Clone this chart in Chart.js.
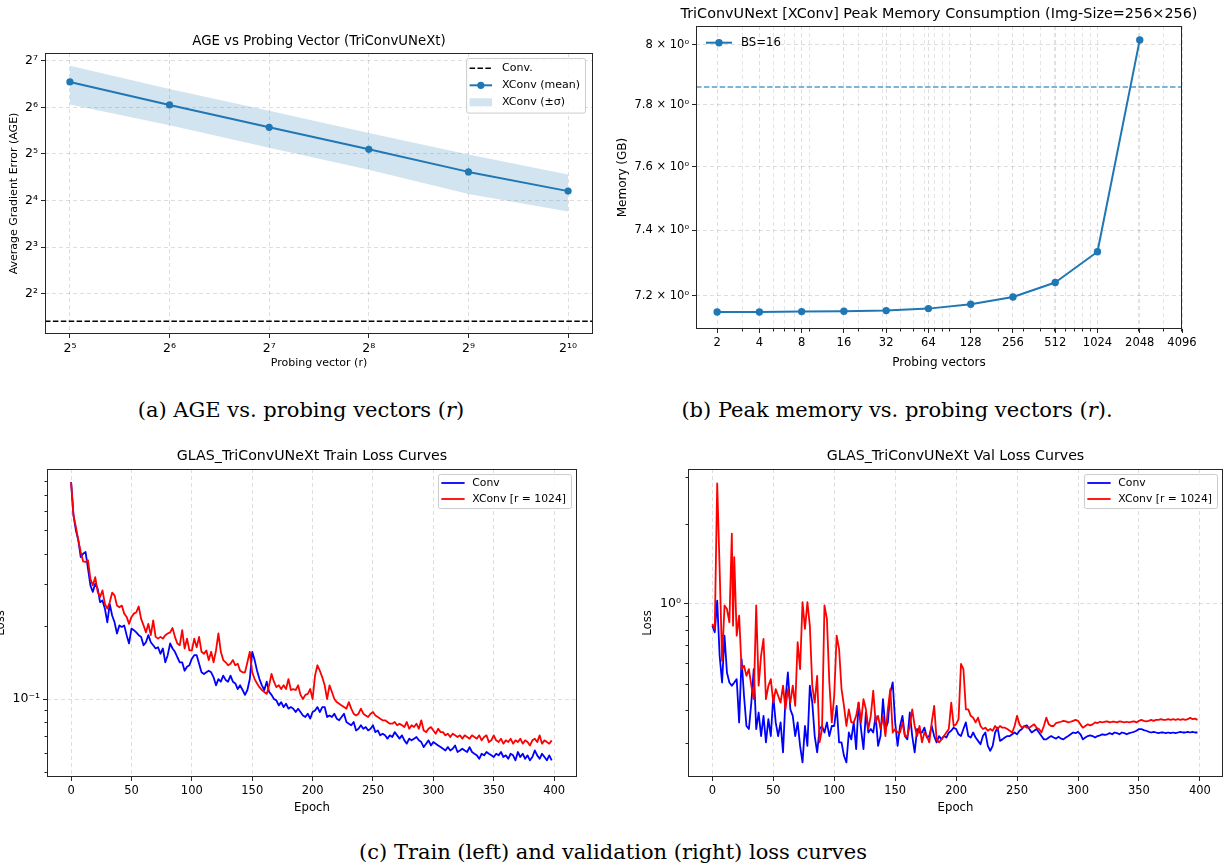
<!DOCTYPE html>
<html>
<head>
<meta charset="utf-8">
<title>XConv probing vectors and loss curves</title>
<script src="https://cdn.jsdelivr.net/npm/chart.js"></script>
<style>
  html, body { margin: 0; padding: 0; background: #fff; }
  body { position: relative; width: 1226px; height: 865px; overflow: hidden; }
  canvas { position: absolute; }
  .caption {
    position: absolute;
    transform: translate(-50%, -50%);
    font-family: "DejaVu Serif", serif;
    font-size: 21px;
    color: #000;
    white-space: nowrap;
  }
</style>
</head>
<body>
<canvas id="ageChart" width="606" height="353" style="left:0px;top:22px"></canvas>
<canvas id="memChart" width="620" height="375" style="left:606px;top:0px"></canvas>
<canvas id="trainChart" width="612" height="380" style="left:-12px;top:440px"></canvas>
<canvas id="valChart" width="614" height="380" style="left:612px;top:440px"></canvas>
<div class="caption" style="left:301px;top:410px">(a) AGE vs. probing vectors (<i>r</i>)</div>
<div class="caption" style="left:897px;top:410px">(b) Peak memory vs. probing vectors (<i>r</i>).</div>
<div class="caption" style="left:613px;top:852px">(c) Train (left) and validation (right) loss curves</div>
<script>
// ---- AGE vs probing vectors ----
const AGE_PROBES = [32, 64, 128, 256, 512, 1024];
const AGE_XCONV_MEAN = [93.6, 66.4, 47.6, 34.3, 24.5, 18.4];
const AGE_XCONV_UPPER = [119, 84.3, 61.0, 43.8, 31.7, 23.6];
const AGE_XCONV_LOWER = [67.0, 49.0, 35.1, 25.3, 17.6, 13.6];
const AGE_CONV = 2.65;
const AGE_TICKS = [4, 8, 16, 32, 64, 128];
const AGE_TICK_LABELS = ["2²", "2³", "2⁴", "2⁵", "2⁶", "2⁷"];
const AGE_X_LABELS = ["2⁵", "2⁶", "2⁷", "2⁸", "2⁹", "2¹⁰"];

// ---- peak memory ----
const MEM_PROBES = [2, 4, 8, 16, 32, 64, 128, 256, 512, 1024, 2048];
const MEM_GB = [7.151, 7.151, 7.152, 7.153, 7.155, 7.161, 7.174, 7.196, 7.240, 7.334, 8.016];
const MEM_LIMIT_GB = 7.859;
const MEM_X_TICKS = [2, 4, 8, 16, 32, 64, 128, 256, 512, 1024, 2048, 4096];
const MEM_X_LABELS = ["2", "4", "8", "16", "32", "64", "128", "256", "512", "1024", "2048", "4096"];
const MEM_X_MINOR = [3, 5, 6, 7, 9, 20, 30, 40, 50, 60, 70, 80, 90, 200, 300, 400, 500, 600, 700, 800, 900, 2000, 3000, 4000];
const MEM_Y_TICKS = [7.2, 7.4, 7.6, 7.8, 8.0];
const MEM_Y_LABELS = ["7.2 × 10⁰", "7.4 × 10⁰", "7.6 × 10⁰", "7.8 × 10⁰", "8 × 10⁰"];

// ---- loss curves ----
const range = (from, to, step) => Array.from({ length: Math.floor((to - from) / step) + 1 }, (_, i) => from + i * step);
const TRAIN_EPOCHS = range(0, 398, 2);
const EPOCH_TICKS = [0, 50, 100, 150, 200, 250, 300, 350, 400];
const EPOCH_LABELS = ["0", "50", "100", "150", "200", "250", "300", "350", "400"];

const TRAIN_CONV = [
  0.793, 0.577, 0.500, 0.455, 0.388, 0.400, 0.407, 0.347, 0.296, 0.278,
  0.301, 0.287, 0.252, 0.256, 0.237, 0.208, 0.248, 0.222, 0.208, 0.187,
  0.202, 0.199, 0.202, 0.184, 0.170, 0.196, 0.193, 0.189, 0.184, 0.181,
  0.167, 0.172, 0.184, 0.172, 0.167, 0.162, 0.164, 0.154, 0.162, 0.142,
  0.152, 0.170, 0.162, 0.157, 0.149, 0.142, 0.142, 0.131, 0.136, 0.138,
  0.147, 0.152, 0.152, 0.140, 0.129, 0.127, 0.129, 0.131, 0.129, 0.123,
  0.114, 0.121, 0.118, 0.125, 0.120, 0.118, 0.125, 0.118, 0.116, 0.110,
  0.114, 0.109, 0.104, 0.109, 0.121, 0.157, 0.145, 0.131, 0.121, 0.114,
  0.109, 0.118, 0.107, 0.104, 0.100, 0.0987, 0.0941, 0.0971, 0.0926, 0.0956,
  0.0912, 0.0926, 0.0912, 0.0883, 0.0912, 0.0883, 0.0855, 0.0842, 0.0869, 0.0829,
  0.0883, 0.0897, 0.0926, 0.0883, 0.0926, 0.0926, 0.0842, 0.0855, 0.0842, 0.0869,
  0.0829, 0.0816, 0.0842, 0.0869, 0.0803, 0.0790, 0.0778, 0.0803, 0.0741, 0.0753,
  0.0778, 0.0753, 0.0765, 0.0741, 0.0753, 0.0778, 0.0729, 0.0741, 0.0707, 0.0718,
  0.0707, 0.0685, 0.0707, 0.0696, 0.0729, 0.0707, 0.0685, 0.0707, 0.0674, 0.0653,
  0.0685, 0.0674, 0.0685, 0.0696, 0.0674, 0.0663, 0.0632, 0.0653, 0.0674, 0.0642,
  0.0663, 0.0653, 0.0642, 0.0632, 0.0622, 0.0612, 0.0632, 0.0612, 0.0622, 0.0642,
  0.0603, 0.0612, 0.0622, 0.0612, 0.0603, 0.0632, 0.0603, 0.0593, 0.0584, 0.0565,
  0.0593, 0.0584, 0.0603, 0.0593, 0.0584, 0.0575, 0.0593, 0.0584, 0.0603, 0.0575,
  0.0584, 0.0565, 0.0593, 0.0584, 0.0557, 0.0603, 0.0575, 0.0593, 0.0565, 0.0584,
  0.0557, 0.0575, 0.0612, 0.0584, 0.0565, 0.0593, 0.0575, 0.0557, 0.0584, 0.0557
];
const TRAIN_XCONV = [
  0.793, 0.577, 0.516, 0.455, 0.407, 0.372, 0.370, 0.376, 0.315, 0.296,
  0.320, 0.278, 0.265, 0.282, 0.248, 0.237, 0.252, 0.276, 0.269, 0.244,
  0.240, 0.244, 0.226, 0.219, 0.205, 0.219, 0.226, 0.229, 0.242, 0.215,
  0.202, 0.189, 0.205, 0.184, 0.212, 0.181, 0.178, 0.181, 0.178, 0.184,
  0.187, 0.189, 0.197, 0.181, 0.170, 0.167, 0.193, 0.162, 0.178, 0.159,
  0.159, 0.178, 0.164, 0.181, 0.157, 0.154, 0.159, 0.145, 0.157, 0.142,
  0.159, 0.187, 0.157, 0.145, 0.142, 0.138, 0.140, 0.145, 0.138, 0.140,
  0.131, 0.129, 0.129, 0.142, 0.157, 0.129, 0.121, 0.116, 0.112, 0.109,
  0.107, 0.105, 0.114, 0.127, 0.118, 0.112, 0.114, 0.110, 0.114, 0.110,
  0.121, 0.109, 0.110, 0.109, 0.114, 0.104, 0.100, 0.104, 0.105, 0.110,
  0.100, 0.125, 0.138, 0.131, 0.123, 0.114, 0.100, 0.114, 0.107, 0.100,
  0.0971, 0.0956, 0.0941, 0.0926, 0.0912, 0.0971, 0.0912, 0.0869, 0.0855, 0.0869,
  0.0912, 0.0869, 0.0855, 0.0842, 0.0869, 0.0883, 0.0855, 0.0842, 0.0829, 0.0816,
  0.0816, 0.0803, 0.0790, 0.0790, 0.0803, 0.0778, 0.0790, 0.0778, 0.0765, 0.0803,
  0.0753, 0.0778, 0.0765, 0.0790, 0.0753, 0.0816, 0.0741, 0.0729, 0.0753, 0.0765,
  0.0741, 0.0718, 0.0753, 0.0729, 0.0729, 0.0707, 0.0718, 0.0696, 0.0718, 0.0707,
  0.0696, 0.0707, 0.0685, 0.0707, 0.0696, 0.0685, 0.0707, 0.0696, 0.0685, 0.0707,
  0.0674, 0.0696, 0.0707, 0.0663, 0.0674, 0.0707, 0.0674, 0.0663, 0.0685, 0.0653,
  0.0674, 0.0663, 0.0685, 0.0653, 0.0674, 0.0663, 0.0685, 0.0653, 0.0674, 0.0663,
  0.0642, 0.0674, 0.0685, 0.0663, 0.0707, 0.0653, 0.0674, 0.0663, 0.0653, 0.0674
];
const TRAIN_Y_MINOR = [0.05, 0.06, 0.07, 0.08, 0.09, 0.2, 0.3, 0.4, 0.5, 0.6, 0.7, 0.8, 0.9];

const VAL_EPOCHS = [...range(0, 16, 2), 17, ...range(18, 398, 2)];
const VAL_CONV = [
  0.828, 0.782, 1.029, 0.638, 0.506, 0.759, 0.552, 0.506, 0.492, 0.499, 0.506,
  0.521, 0.358, 0.620, 0.451, 0.347, 0.338, 0.425, 0.568, 0.338, 0.390,
  0.318, 0.379, 0.301, 0.368, 0.318, 0.451, 0.358, 0.318, 0.358, 0.276,
  0.438, 0.552, 0.401, 0.379, 0.318, 0.358, 0.292, 0.253, 0.347, 0.292,
  0.492, 0.425, 0.318, 0.276, 0.338, 0.347, 0.328, 0.358, 0.318, 0.347,
  0.347, 0.413, 0.301, 0.301, 0.268, 0.253, 0.328, 0.309, 0.358, 0.284,
  0.425, 0.338, 0.284, 0.390, 0.328, 0.338, 0.328, 0.379, 0.292, 0.318,
  0.438, 0.338, 0.358, 0.464, 0.506, 0.358, 0.292, 0.347, 0.379, 0.318,
  0.309, 0.390, 0.318, 0.276, 0.338, 0.328, 0.328, 0.342, 0.314, 0.318,
  0.347, 0.318, 0.301, 0.318, 0.309, 0.318, 0.314, 0.328, 0.333, 0.342,
  0.338, 0.323, 0.318, 0.338, 0.358, 0.318, 0.314, 0.328, 0.314, 0.305,
  0.296, 0.318, 0.328, 0.292, 0.280, 0.292, 0.328, 0.342, 0.305, 0.309,
  0.314, 0.318, 0.318, 0.323, 0.328, 0.323, 0.333, 0.338, 0.347, 0.349,
  0.338, 0.328, 0.333, 0.338, 0.328, 0.318, 0.309, 0.309, 0.314, 0.318,
  0.314, 0.311, 0.316, 0.311, 0.309, 0.314, 0.318, 0.323, 0.328, 0.326,
  0.330, 0.323, 0.309, 0.314, 0.318, 0.320, 0.318, 0.314, 0.318, 0.320,
  0.323, 0.321, 0.323, 0.326, 0.323, 0.328, 0.326, 0.323, 0.328, 0.326,
  0.323, 0.326, 0.328, 0.330, 0.333, 0.338, 0.338, 0.335, 0.333, 0.330,
  0.328, 0.330, 0.328, 0.326, 0.328, 0.328, 0.326, 0.328, 0.326, 0.328,
  0.326, 0.328, 0.330, 0.328, 0.328, 0.330, 0.328, 0.330, 0.328, 0.328
];
const VAL_XCONV = [
  0.840, 0.805, 2.84, 1.355, 0.611, 0.986, 0.957, 0.853, 1.837, 0.828, 1.500,
  0.759, 0.904, 0.568, 0.585, 0.536, 0.568, 0.492, 0.438, 0.986, 0.492,
  0.638, 0.738, 0.438, 0.492, 0.521, 0.425, 0.478, 0.451, 0.425, 0.492,
  0.401, 0.478, 0.425, 0.492, 0.413, 0.717, 0.568, 1.015, 0.805, 1.015,
  0.828, 0.492, 0.425, 0.536, 0.301, 0.338, 0.986, 0.878, 0.506, 0.358,
  0.451, 0.759, 0.676, 0.478, 0.413, 0.347, 0.401, 0.358, 0.358, 0.379,
  0.425, 0.358, 0.438, 0.401, 0.338, 0.379, 0.471, 0.358, 0.379, 0.338,
  0.379, 0.318, 0.401, 0.478, 0.328, 0.338, 0.328, 0.328, 0.358, 0.318,
  0.318, 0.347, 0.401, 0.347, 0.318, 0.347, 0.301, 0.328, 0.318, 0.301,
  0.358, 0.413, 0.309, 0.301, 0.309, 0.318, 0.328, 0.338, 0.425, 0.347,
  0.352, 0.368, 0.594, 0.568, 0.401, 0.401, 0.379, 0.373, 0.358, 0.373,
  0.347, 0.338, 0.342, 0.333, 0.338, 0.333, 0.347, 0.338, 0.347, 0.342,
  0.342, 0.338, 0.333, 0.328, 0.347, 0.379, 0.352, 0.342, 0.347, 0.342,
  0.342, 0.347, 0.352, 0.342, 0.338, 0.328, 0.347, 0.373, 0.352, 0.347,
  0.347, 0.356, 0.358, 0.360, 0.363, 0.361, 0.358, 0.360, 0.363, 0.366,
  0.363, 0.352, 0.342, 0.347, 0.352, 0.349, 0.352, 0.358, 0.356, 0.360,
  0.358, 0.360, 0.361, 0.358, 0.360, 0.360, 0.358, 0.361, 0.360, 0.358,
  0.360, 0.358, 0.360, 0.361, 0.358, 0.363, 0.366, 0.363, 0.361, 0.363,
  0.366, 0.363, 0.366, 0.366, 0.368, 0.366, 0.366, 0.368, 0.366, 0.368,
  0.366, 0.368, 0.366, 0.368, 0.366, 0.368, 0.373, 0.368, 0.370, 0.366
];
const VAL_Y_MINOR = [0.3, 0.4, 0.5, 0.6, 0.7, 0.8, 0.9, 2, 3];

// ---- shared styling ----
const C0 = "#1f77b4";
const INK = "#000";
const TICK = "#262626";
const GRID = "rgba(0,0,0,0.13)";
const FONT = '"DejaVu Sans", sans-serif';

Chart.defaults.font.family = FONT;
Chart.defaults.color = INK;

const points = (xs, ys) => xs.map((x, i) => ({ x, y: ys[i] }));

// axis with fixed tick set and a fixed box size so the plot area lands where wanted
function axis({ type, min, max, ticks, labels, title, titleSize, titlePad, size, tickSize = 11.5 }) {
  return {
    type, min, max,
    afterBuildTicks: s => { s.ticks = ticks.map(v => ({ value: v })); },
    afterFit: s => { if (s.isHorizontal()) s.height = size; else s.width = size; },
    ticks: {
      autoSkip: false, maxRotation: 0, minRotation: 0, padding: 3,
      font: { size: tickSize }, color: INK,
      callback: (v, i) => labels[i]
    },
    grid: { color: GRID, lineWidth: 1, drawTicks: true, tickLength: 4, tickColor: TICK, tickWidth: 1 },
    border: { display: false, dash: [4, 3] },
    title: { display: true, text: title, color: INK, font: { size: titleSize }, padding: titlePad }
  };
}

function drawLegend(ctx, a, lg) {
  ctx.font = `${lg.size}px ${FONT}`;
  const textW = Math.max(...lg.items.map(it => ctx.measureText(it.label).width));
  const w = lg.textX + textW + 5;
  const h = 2 * lg.firstRow + (lg.items.length - 1) * lg.rowGap;
  const x0 = lg.corner === "ur" ? a.right - lg.inset - w : a.left + lg.inset;
  const y0 = a.top + 5;
  if (lg.frame) {
    ctx.beginPath();
    if (ctx.roundRect) ctx.roundRect(x0 + 0.5, y0 + 0.5, w, h, 2);
    else ctx.rect(x0 + 0.5, y0 + 0.5, w, h);
    ctx.fillStyle = "rgba(255,255,255,0.8)";
    ctx.fill();
    ctx.strokeStyle = "#cccccc";
    ctx.lineWidth = 1;
    ctx.setLineDash([]);
    ctx.stroke();
  }
  lg.items.forEach((it, i) => {
    const cy = y0 + lg.firstRow + i * lg.rowGap;
    const h0 = x0 + lg.handle[0], h1 = x0 + lg.handle[1];
    if (it.patch) {
      ctx.fillStyle = it.color;
      ctx.fillRect(h0, cy - 4, h1 - h0, 8);
    } else {
      ctx.strokeStyle = it.color;
      ctx.lineWidth = it.width;
      ctx.setLineDash(it.dash || []);
      ctx.beginPath();
      ctx.moveTo(h0, cy);
      ctx.lineTo(h1, cy);
      ctx.stroke();
      ctx.setLineDash([]);
      if (it.marker) {
        ctx.fillStyle = it.color;
        ctx.beginPath();
        ctx.arc((h0 + h1) / 2, cy, it.marker, 0, 2 * Math.PI);
        ctx.fill();
      }
    }
    ctx.fillStyle = INK;
    ctx.textAlign = "left";
    ctx.textBaseline = "middle";
    ctx.fillText(it.label, x0 + lg.textX, cy);
  });
}

// frame, title, minor ticks and legend, drawn matplotlib style
const panel = {
  id: "panel",
  beforeDatasetsDraw(chart, args, opts) {
    if (!opts.minorGridX) return;
    const { ctx, chartArea: a, scales: { x } } = chart;
    ctx.save();
    ctx.strokeStyle = "rgba(0,0,0,0.1)";
    ctx.lineWidth = 1;
    ctx.setLineDash([4, 3]);
    opts.minorGridX.forEach(v => {
      const px = Math.round(x.getPixelForValue(v)) + 0.5;
      ctx.beginPath();
      ctx.moveTo(px, a.top);
      ctx.lineTo(px, a.bottom);
      ctx.stroke();
    });
    ctx.restore();
  },
  afterDraw(chart, args, opts) {
    const { ctx, chartArea: a, scales: { x, y } } = chart;
    ctx.save();
    ctx.strokeStyle = TICK;
    ctx.lineWidth = 1;
    (opts.minorX || []).forEach(v => {
      if (v < x.min || v > x.max) return;
      const px = Math.round(x.getPixelForValue(v)) + 0.5;
      ctx.beginPath();
      ctx.moveTo(px, a.bottom);
      ctx.lineTo(px, a.bottom + 2.5);
      ctx.stroke();
    });
    (opts.minorY || []).forEach(v => {
      if (v < y.min || v > y.max) return;
      const py = Math.round(y.getPixelForValue(v)) + 0.5;
      ctx.beginPath();
      ctx.moveTo(a.left, py);
      ctx.lineTo(a.left - 2.5, py);
      ctx.stroke();
    });
    ctx.strokeRect(a.left + 0.5, a.top + 0.5, a.right - a.left - 1, a.bottom - a.top - 1);

    ctx.fillStyle = INK;
    ctx.font = `${opts.titleSize}px ${FONT}`;
    ctx.textAlign = "center";
    ctx.textBaseline = "middle";
    ctx.fillText(opts.title, (a.left + a.right) / 2, a.top - opts.titleGap);

    if (opts.legend) drawLegend(ctx, a, opts.legend);
    ctx.restore();
  }
};

const base = {
  responsive: false,
  animation: false,
  devicePixelRatio: 1,
  elements: { line: { tension: 0, borderJoinStyle: "round" } }
};

// (a) AGE vs probing vector
const AGE_X_MIN = 2 ** 4.75, AGE_X_MAX = 2 ** 10.25;
new Chart(document.getElementById("ageChart"), {
  type: "line",
  data: {
    datasets: [
      {
        data: points(AGE_PROBES, AGE_XCONV_MEAN),
        borderColor: C0, borderWidth: 2,
        pointRadius: 3.6, pointBackgroundColor: C0, pointBorderWidth: 0
      },
      {
        data: [{ x: AGE_X_MIN, y: AGE_CONV }, { x: AGE_X_MAX, y: AGE_CONV }],
        borderColor: "#000", borderWidth: 1.5, borderDash: [5.5, 2.4], pointRadius: 0
      },
      {
        data: points(AGE_PROBES, AGE_XCONV_UPPER),
        borderColor: "transparent", borderWidth: 0, pointRadius: 0,
        fill: "+1", backgroundColor: "rgba(31,119,180,0.2)"
      },
      {
        data: points(AGE_PROBES, AGE_XCONV_LOWER),
        borderColor: "transparent", borderWidth: 0, pointRadius: 0, fill: false
      }
    ]
  },
  options: {
    ...base,
    layout: { padding: { left: 0, top: 31, right: 13, bottom: 0 }, autoPadding: false },
    scales: {
      x: axis({
        type: "logarithmic", min: AGE_X_MIN, max: AGE_X_MAX,
        ticks: AGE_PROBES, labels: AGE_X_LABELS, tickSize: 12.5,
        title: "Probing vector (r)", titleSize: 11, titlePad: { top: 0, bottom: 5.4 }, size: 41
      }),
      y: axis({
        type: "logarithmic", min: 2.19, max: 144,
        ticks: AGE_TICKS, labels: AGE_TICK_LABELS, tickSize: 12.5,
        title: "Average Gradient Error (AGE)", titleSize: 11, titlePad: { top: 7.4, bottom: 0 }, size: 45
      })
    },
    plugins: {
      legend: { display: false },
      tooltip: { enabled: false },
      panel: {
        title: "AGE vs Probing Vector (TriConvUNeXt)", titleSize: 13.3, titleGap: 11.3,
        legend: {
          corner: "ur", inset: 8, frame: true, size: 11,
          firstRow: 10.3, rowGap: 17, handle: [3.5, 26], textX: 36,
          items: [
            { label: "Conv.", color: "#000", width: 1.5, dash: [5.5, 2.4] },
            { label: "XConv (mean)", color: C0, width: 2, marker: 3.6 },
            { label: "XConv (±σ)", color: "rgba(31,119,180,0.2)", patch: true }
          ]
        }
      }
    }
  },
  plugins: [panel]
});

// (b) peak memory
const MEM_X_MIN = 2 ** 0.5, MEM_X_MAX = 4096;
new Chart(document.getElementById("memChart"), {
  type: "line",
  data: {
    datasets: [
      {
        data: points(MEM_PROBES, MEM_GB),
        borderColor: C0, borderWidth: 2,
        pointRadius: 3.7, pointBackgroundColor: C0, pointBorderWidth: 0
      },
      {
        data: [{ x: MEM_X_MIN, y: MEM_LIMIT_GB }, { x: MEM_X_MAX, y: MEM_LIMIT_GB }],
        borderColor: "rgba(31,119,180,0.75)", borderWidth: 1.5, borderDash: [5.5, 2.4], pointRadius: 0
      }
    ]
  },
  options: {
    ...base,
    layout: { padding: { left: 0, top: 26, right: 44, bottom: 0 }, autoPadding: false },
    scales: {
      x: axis({
        type: "logarithmic", min: MEM_X_MIN, max: MEM_X_MAX,
        ticks: MEM_X_TICKS, labels: MEM_X_LABELS,
        title: "Probing vectors", titleSize: 12, titlePad: { top: 0, bottom: 4.5 }, size: 46
      }),
      y: axis({
        type: "logarithmic", min: 7.111, max: 8.063,
        ticks: MEM_Y_TICKS, labels: MEM_Y_LABELS,
        title: "Memory (GB)", titleSize: 12, titlePad: { top: 9.6, bottom: 0 }, size: 90
      })
    },
    plugins: {
      legend: { display: false },
      tooltip: { enabled: false },
      panel: {
        title: "TriConvUNext [XConv] Peak Memory Consumption (Img-Size=256×256)", titleSize: 14.4, titleGap: 12,
        minorGridX: MEM_X_MINOR,
        minorX: MEM_X_MINOR,
        legend: {
          corner: "ul", inset: 10, frame: false, size: 11.7,
          firstRow: 11.7, rowGap: 17, handle: [0, 26], textX: 35,
          items: [{ label: "BS=16", color: C0, width: 2, marker: 3.7 }]
        }
      }
    }
  },
  plugins: [panel]
});

// (c) loss curves
function lossChart(id, opts) {
  return new Chart(document.getElementById(id), {
    type: "line",
    data: {
      datasets: [
        { data: points(opts.epochs, opts.xconv), borderColor: "#ff0000", borderWidth: 1.8, pointRadius: 0 },
        { data: points(opts.epochs, opts.conv), borderColor: "#0000ff", borderWidth: 1.8, pointRadius: 0 }
      ]
    },
    options: {
      ...base,
      layout: { padding: { left: 0, top: 29, right: opts.padRight, bottom: 0 }, autoPadding: false },
      scales: {
        x: axis({
          type: "linear", min: -19.95, max: 418.95,
          ticks: EPOCH_TICKS, labels: EPOCH_LABELS,
          title: "Epoch", titleSize: 11.7, titlePad: { top: 0, bottom: 4.7 }, size: 43
        }),
        y: axis({
          type: "logarithmic", min: opts.yMin, max: opts.yMax,
          ticks: [opts.yMajor], labels: [opts.yMajorLabel], tickSize: 12.5,
          title: "Loss", titleSize: 11.7, titlePad: { top: opts.yTitlePad, bottom: 0 }, size: opts.yWidth
        })
      },
      plugins: {
        legend: { display: false },
        tooltip: { enabled: false },
        panel: {
          title: opts.title, titleSize: 14.2, titleGap: 12.3,
          minorY: opts.minorY,
          legend: {
            corner: "ur", inset: 6, frame: true, size: 10.8,
            firstRow: 9, rowGap: 16, handle: [3.4, 26.7], textX: 34.4,
            items: [
              { label: "Conv", color: "#0000ff", width: 1.8 },
              { label: "XConv [r = 1024]", color: "#ff0000", width: 1.8 }
            ]
          }
        }
      }
    },
    plugins: [panel]
  });
}

lossChart("trainChart", {
  title: "GLAS_TriConvUNeXt Train Loss Curves",
  epochs: TRAIN_EPOCHS, conv: TRAIN_CONV, xconv: TRAIN_XCONV,
  yMin: 0.0475, yMax: 0.899, yMajor: 0.1, yMajorLabel: "10⁻¹", minorY: TRAIN_Y_MINOR,
  yWidth: 59, yTitlePad: 5.5, padRight: 23
});

lossChart("valChart", {
  title: "GLAS_TriConvUNeXt Val Loss Curves",
  epochs: VAL_EPOCHS, conv: VAL_CONV, xconv: VAL_XCONV,
  yMin: 0.223, yMax: 3.22, yMajor: 1, yMajorLabel: "10⁰", minorY: VAL_Y_MINOR,
  yWidth: 76, yTitlePad: 29, padRight: 3
});
</script>
</body>
</html>
